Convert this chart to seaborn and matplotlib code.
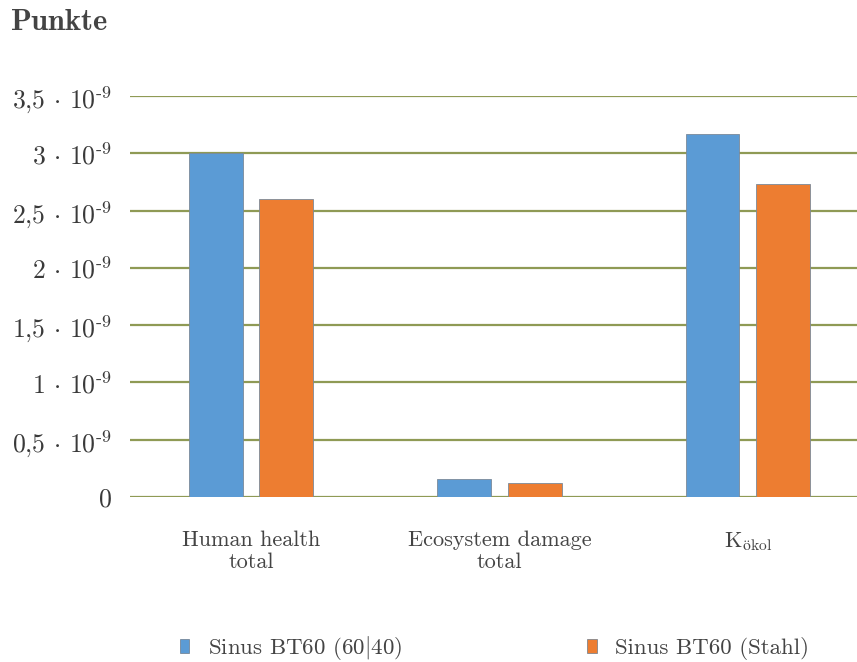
import matplotlib
matplotlib.use("Agg")
import matplotlib.pyplot as plt
import seaborn as sns
import pandas as pd
from matplotlib.ticker import FixedLocator, FuncFormatter
from matplotlib.patches import Patch

categories = ["Human health\ntotal", "Ecosystem damage\ntotal", r"K$_{\mathrm{ökol}}$"]
series = ["Sinus BT60 (60|40)", "Sinus BT60 (Stahl)"]
series_labels = [r"Sinus BT60 (60$|$40)", "Sinus BT60 (Stahl)"]
values_6040 = [3.00e-9, 0.157e-9, 3.17e-9]
values_stahl = [2.60e-9, 0.122e-9, 2.73e-9]
y_ticks = [0, 0.5e-9, 1.0e-9, 1.5e-9, 2.0e-9, 2.5e-9, 3.0e-9, 3.5e-9]
colors = ["#5B9BD5", "#ED7D31"]

df = pd.DataFrame({
    "Kategorie": categories * 2,
    "Variante": [series[0]] * 3 + [series[1]] * 3,
    "Punkte": values_6040 + values_stahl,
})

sns.set_theme(style="white")
plt.rcParams["font.family"] = ["serif"]
plt.rcParams["font.serif"] = ["cmr10", "DejaVu Serif"]
plt.rcParams["mathtext.fontset"] = "cm"
plt.rcParams["axes.unicode_minus"] = False
plt.rcParams["axes.formatter.use_mathtext"] = True

fig = plt.figure(figsize=(8.57, 6.62), dpi=100)
ax = fig.add_axes([130 / 857, 1 - 497 / 662, 1 - 130 / 857, (497 - 96) / 662])

sns.barplot(data=df, x="Kategorie", y="Punkte", hue="Variante", order=categories,
            hue_order=series, palette=colors, width=0.567, gap=0.234,
            ax=ax, legend=False, edgecolor="#7a8a9a", linewidth=0.6, saturation=1)

# olive horizontal gridlines behind the bars
for t in y_ticks:
    ax.axhline(t, color="#8f9a55", lw=1.6, zorder=0)

ax.set_ylim(0, 3.5e-9)
ax.set_xlim(-0.487, 2.44)
for s in ax.spines.values():
    s.set_visible(False)
ax.grid(False)


def fmt(v, pos):
    m = round(v / 1e-9, 1)
    if m == 0:
        return "0"
    s = ("%g" % m).replace(".", ",")
    return s + r" $\cdot$ 10$^{\text{-}9}$"


ax.yaxis.set_major_locator(FixedLocator(y_ticks))
ax.yaxis.set_major_formatter(FuncFormatter(fmt))
ax.tick_params(axis="y", length=0, pad=13, labelsize=18.5, labelcolor="#3a3a3a")
ax.tick_params(axis="x", length=0, pad=24, labelsize=16, labelcolor="#444444")
ax.set_xlabel("")
ax.set_ylabel("")

fig.text(10 / 857, 1 - 22 / 662, r"$\mathbf{Punkte}$", fontsize=22,
         color="#444444", va="center", ha="left")

handles = [Patch(facecolor=c, edgecolor="#6a7a8a", lw=0.5) for c in colors]
fig.legend(handles, series_labels, loc="center", bbox_to_anchor=(0.577, 1 - 648 / 662),
           ncol=2, frameon=False, fontsize=16.5, columnspacing=8.1,
           handlelength=0.4, handleheight=0.55, handletextpad=0.8,
           labelcolor="#444444")

fig.savefig("out.png", dpi=100)
